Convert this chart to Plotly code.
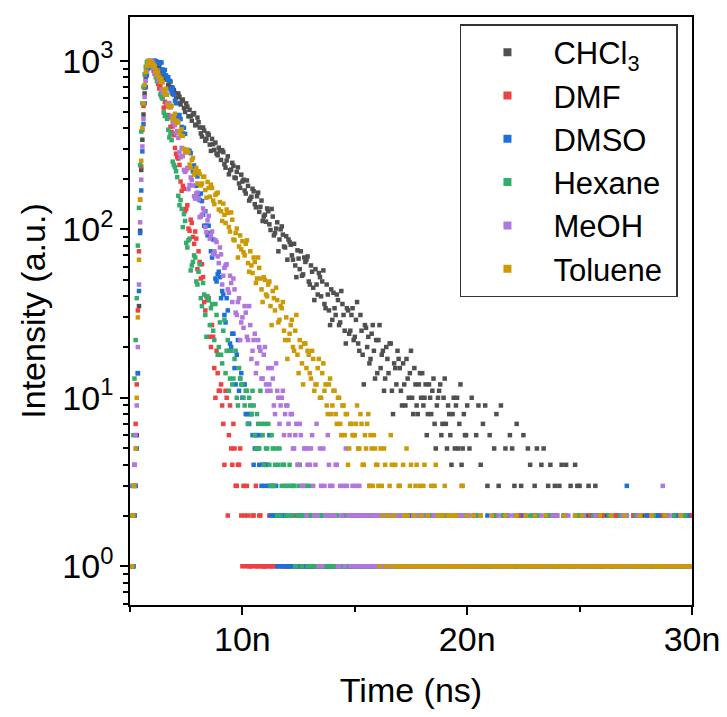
# Fluorescence decay of the dye in six solvents (TCSPC, log scale)

import numpy as np
import plotly.graph_objects as go

# Bins: 0.05 ns from 5.0 to 19.95 ns ("fine"), then 0.1 ns from 20.0 to 30.0 ns ("tail")
fine_start_ns, fine_step_ns = 5.0, 0.05
tail_start_ns, tail_step_ns = 20.0, 0.1

# ---- CHCl3 ----
chcl3_fine = [
    1, 1, 1, 1, 2, 3, 6, 14, 35, 98, 225, 340, 480, 640, 780, 860, 930, 960, 985, 992,
    985, 968, 1000, 958, 928, 951, 932, 872, 817, 878, 813, 781, 812, 791, 719, 702, 754, 698, 636, 671,
    643, 602, 561, 640, 612, 551, 577, 589, 525, 497, 559, 534, 468, 512, 470, 441, 480, 489, 414, 418,
    460, 432, 402, 371, 355, 402, 385, 335, 345, 371, 364, 318, 292, 344, 320, 296, 327, 281, 275, 305,
    291, 258, 295, 287, 243, 232, 256, 271, 212, 224, 226, 248, 238, 203, 201, 219, 233, 187, 176, 211,
    192, 197, 170, 163, 195, 181, 148, 152, 156, 174, 168, 141, 135, 157, 165, 127, 136, 148, 112, 119,
    122, 111, 133, 128, 107, 99, 132, 119, 92, 95, 101, 110, 74, 87, 100, 104, 93, 79, 78, 91,
    66, 87, 84, 81, 70, 66, 82, 61, 52, 75, 67, 58, 74, 53, 54, 68, 64, 66, 69, 49,
    47, 61, 56, 45, 38, 58, 47, 41, 55, 52, 40, 49, 57, 36, 34, 47, 41, 33, 27, 44,
    29, 42, 34, 31, 41, 38, 27, 28, 43, 36, 31, 25, 21, 34, 33, 24, 25, 31, 34, 22,
    23, 29, 37, 21, 19, 31, 25, 18, 12, 27, 26, 20, 23, 16, 17, 24, 27, 19, 13, 22,
    14, 22, 27, 15, 18, 19, 11, 13, 20, 17, 14, 21, 21, 11, 8, 16, 15, 12, 19, 17,
    15, 11, 9, 16, 12, 9, 17, 13, 10, 14, 19, 10, 8, 15, 12, 9, 8, 12, 14, 10,
    14, 9, 10, 12, 6, 8, 12, 10, 8, 11, 13, 7, 5, 9, 10, 11, 12, 6, 7, 10,
    13, 7, 5, 9, 8, 6, 4, 8, 10, 5, 9, 10, 5, 7, 12, 4, 5, 8, 6, 6,
]
chcl3_tail = [
    9, 5, 10, 2, 6, 9, 4, 7, 9, 3,
    6, 1, 5, 8, 3, 9, 2, 5, 0, 6,
    5, 3, 7, 2, 3, 6, 2, 5, 4, 2,
    3, 5, 1, 4, 5, 2, 3, 4, 2, 3,
    2, 3, 4, 2, 4, 1, 3, 1, 4, 3,
    3, 2, 1, 2, 3, 2, 1, 3, 2, 1,
    2, 1, 2, 2, 0, 1, 2, 1, 2, 1,
    1, 2, 0, 1, 2, 2, 1, 0, 2, 1,
    2, 1, 1, 0, 2, 1, 2, 1, 1, 2,
    1, 0, 2, 1, 1, 2, 1, 2, 0, 1,
    2,
]

# ---- DMF ----
dmf_fine = [
    1, 1, 2, 3, 4, 7, 12, 33, 74, 150, 236, 390, 540, 690, 820, 905, 970, 990, 1000, 975,
    955, 874, 837, 845, 849, 729, 685, 712, 653, 598, 527, 571, 541, 467, 476, 462, 406, 378, 408, 362,
    304, 281, 268, 263, 241, 192, 169, 181, 174, 128, 132, 139, 101, 98, 114, 109, 90, 82, 97, 88,
    58, 74, 64, 51, 62, 52, 37, 33, 40, 38, 39, 23, 20, 27, 23, 15, 10, 19, 14, 11,
    11, 12, 9, 7, 4, 11, 10, 2, 6, 9, 5, 4, 7, 5, 3, 3, 4, 4, 5, 2,
    1, 3, 2, 1, 3, 2, 1, 1, 1, 2, 2, 1, 3, 1, 1, 2, 2, 1, 1, 1,
    1, 1, 1, 0, 2, 1, 1, 1, 0, 2, 1, 1, 1, 0, 2, 1, 1, 1, 1, 1,
    1, 1, 0, 1, 1, 0, 2, 1, 1, 1, 1, 2, 0, 1, 1, 1, 1, 0, 2, 1,
    1, 0, 1, 1, 0, 2, 1, 1, 2, 1, 1, 0, 1, 1, 1, 1, 0, 1, 1, 2,
    2, 1, 1, 1, 1, 0, 0, 1, 1, 1, 1, 1, 2, 0, 1, 2, 1, 1, 0, 1,
    1, 0, 1, 1, 2, 1, 1, 1, 0, 1, 1, 2, 1, 1, 1, 0, 2, 1, 1, 1,
    0, 1, 1, 1, 1, 0, 1, 2, 2, 1, 1, 1, 0, 1, 1, 1, 1, 0, 1, 1,
    1, 1, 2, 0, 1, 1, 0, 1, 1, 2, 1, 1, 1, 0, 2, 1, 1, 1, 0, 1,
    1, 2, 1, 1, 0, 1, 1, 1, 1, 0, 2, 1, 1, 1, 1, 2, 0, 1, 1, 1,
    2, 1, 1, 1, 1, 0, 1, 1, 0, 1, 1, 1, 2, 1, 1, 0, 1, 2, 1, 1,
]
dmf_tail = [
    1, 0, 1, 2, 1, 1, 1, 0, 1, 1,
    1, 1, 2, 1, 1, 0, 1, 1, 2, 1,
    0, 1, 1, 1, 2, 1, 1, 0, 1, 1,
    1, 2, 1, 0, 1, 1, 1, 1, 2, 0,
    1, 1, 1, 2, 0, 1, 1, 1, 1, 2,
    1, 0, 1, 1, 1, 2, 1, 0, 1, 1,
    2, 1, 1, 0, 1, 1, 2, 1, 1, 0,
    1, 1, 0, 1, 2, 1, 1, 1, 0, 1,
    1, 2, 1, 1, 0, 1, 1, 2, 1, 1,
    0, 1, 1, 2, 1, 1, 0, 1, 1, 2,
    1,
]

# ---- DMSO ----
dmso_fine = [
    1, 1, 1, 1, 2, 3, 5, 14, 43, 95, 170, 290, 420, 560, 700, 820, 900, 940, 970, 955,
    910, 972, 1000, 993, 987, 962, 960, 981, 976, 889, 847, 881, 819, 771, 799, 762, 678, 651, 690, 629,
    580, 561, 475, 462, 477, 451, 405, 371, 400, 368, 294, 289, 294, 291, 283, 231, 221, 239, 220, 181,
    206, 161, 149, 163, 147, 122, 105, 128, 105, 92, 105, 95, 74, 68, 87, 72, 51, 49, 54, 56,
    52, 39, 43, 41, 31, 28, 39, 33, 19, 21, 20, 24, 24, 15, 12, 18, 22, 11, 13, 14,
    10, 12, 12, 8, 8, 7, 7, 8, 8, 6, 4, 5, 6, 6, 5, 4, 6, 3, 4, 4,
    3, 4, 4, 3, 6, 2, 3, 3, 2, 2, 3, 1, 2, 2, 2, 1, 1, 2, 2, 1,
    1, 1, 1, 0, 2, 1, 1, 1, 1, 2, 0, 1, 1, 1, 2, 0, 1, 1, 1, 1,
    2, 1, 1, 1, 0, 2, 1, 0, 1, 1, 2, 1, 1, 1, 1, 2, 1, 1, 0, 1,
    1, 0, 2, 1, 1, 1, 1, 1, 0, 2, 1, 1, 1, 1, 2, 0, 1, 1, 1, 2,
    0, 1, 1, 2, 1, 1, 1, 0, 2, 1, 1, 1, 0, 1, 1, 2, 1, 1, 2, 0,
    1, 1, 1, 0, 0, 1, 2, 1, 1, 1, 1, 2, 1, 0, 0, 1, 1, 1, 1, 1,
    2, 1, 0, 1, 1, 1, 1, 2, 1, 0, 2, 1, 1, 1, 1, 0, 0, 1, 1, 2,
    1, 0, 1, 1, 1, 2, 0, 1, 2, 1, 1, 0, 1, 1, 1, 1, 2, 1, 0, 1,
    1, 1, 2, 1, 0, 1, 1, 0, 1, 2, 1, 1, 0, 1, 2, 1, 1, 0, 1, 1,
]
dmso_tail = [
    0, 1, 1, 1, 2, 0, 1, 1, 1, 2,
    1, 1, 2, 0, 1, 1, 1, 0, 2, 1,
    1, 0, 1, 1, 1, 2, 0, 1, 1, 1,
    2, 1, 1, 0, 1, 1, 2, 1, 0, 1,
    1, 1, 0, 2, 1, 1, 1, 1, 2, 0,
    0, 2, 1, 1, 1, 0, 1, 2, 1, 1,
    1, 1, 1, 2, 0, 1, 1, 1, 0, 2,
    1, 3, 1, 0, 1, 1, 2, 1, 1, 0,
    2, 1, 0, 1, 1, 2, 1, 0, 1, 1,
    1, 0, 1, 2, 1, 1, 0, 1, 2, 1,
    1,
]

# ---- Hexane ----
hexane_fine = [
    2, 2, 3, 6, 13, 22, 39, 80, 134, 240, 380, 560, 700, 830, 920, 980, 1000, 985, 960, 930,
    908, 913, 890, 798, 757, 781, 751, 632, 610, 598, 494, 471, 477, 452, 390, 351, 369, 338, 252, 241,
    234, 221, 204, 158, 139, 149, 132, 103, 123, 112, 83, 78, 86, 88, 57, 61, 64, 70, 68, 49,
    47, 56, 62, 39, 35, 48, 41, 31, 23, 40, 38, 27, 34, 36, 25, 22, 36, 31, 18, 20,
    28, 18, 16, 25, 29, 14, 19, 22, 11, 13, 19, 12, 13, 17, 19, 10, 9, 15, 13, 12,
    12, 10, 9, 11, 11, 7, 10, 9, 8, 11, 9, 6, 5, 8, 7, 5, 11, 7, 6, 4,
    7, 5, 5, 7, 4, 3, 6, 5, 3, 4, 5, 2, 4, 5, 2, 3, 4, 4, 3, 2,
    3, 2, 4, 3, 2, 3, 3, 1, 1, 2, 3, 4, 2, 1, 2, 2, 3, 2, 1, 3,
    2, 1, 2, 2, 1, 1, 2, 1, 0, 2, 1, 1, 2, 0, 1, 2, 1, 1, 2, 1,
    1, 1, 1, 2, 2, 0, 1, 1, 1, 1, 0, 1, 1, 2, 1, 1, 2, 0, 1, 1,
    1, 1, 2, 1, 1, 0, 0, 1, 1, 2, 1, 1, 2, 1, 1, 0, 1, 1, 0, 1,
    1, 0, 1, 1, 2, 1, 1, 1, 0, 1, 1, 2, 1, 1, 1, 0, 2, 1, 1, 1,
    0, 1, 1, 1, 1, 2, 2, 1, 1, 0, 1, 1, 0, 1, 1, 1, 1, 2, 2, 1,
    1, 1, 2, 0, 1, 1, 1, 1, 0, 2, 1, 1, 1, 0, 2, 1, 1, 1, 1, 1,
    1, 2, 0, 1, 1, 1, 1, 0, 2, 1, 1, 1, 1, 2, 0, 1, 1, 1, 2, 0,
]
hexane_tail = [
    2, 1, 1, 0, 1, 2, 1, 1, 1, 0,
    1, 1, 0, 2, 1, 1, 2, 1, 0, 1,
    1, 2, 1, 1, 1, 0, 1, 1, 2, 1,
    0, 1, 2, 1, 1, 1, 0, 2, 1, 1,
    1, 1, 1, 0, 2, 1, 1, 1, 0, 2,
    2, 1, 0, 1, 1, 1, 2, 0, 1, 1,
    1, 0, 1, 2, 1, 1, 1, 1, 2, 0,
    1, 2, 1, 1, 0, 2, 1, 1, 1, 1,
    0, 1, 1, 2, 1, 1, 0, 1, 2, 1,
    1, 1, 2, 0, 1, 1, 1, 2, 1, 0,
    1,
]

# ---- MeOH ----
meoh_fine = [
    1, 1, 2, 3, 4, 6, 9, 20, 47, 110, 197, 310, 450, 610, 760, 860, 940, 975, 990, 996,
    985, 911, 842, 881, 827, 768, 800, 752, 676, 651, 656, 641, 638, 556, 535, 561, 529, 471, 431, 462,
    415, 372, 383, 349, 286, 268, 304, 272, 225, 219, 224, 231, 173, 183, 203, 196, 182, 157, 152, 163,
    165, 151, 118, 119, 122, 133, 128, 103, 96, 113, 120, 88, 92, 97, 71, 74, 86, 84, 69, 63,
    78, 71, 47, 53, 59, 61, 62, 44, 42, 53, 48, 37, 51, 44, 32, 31, 37, 39, 22, 28,
    30, 26, 35, 32, 23, 22, 35, 27, 17, 19, 22, 24, 14, 16, 22, 20, 19, 13, 13, 18,
    20, 12, 11, 15, 12, 11, 15, 13, 9, 8, 16, 11, 10, 7, 9, 10, 11, 6, 8, 9,
    9, 7, 6, 8, 8, 5, 5, 6, 7, 4, 4, 7, 6, 3, 3, 5, 5, 2, 4, 5,
    4, 5, 6, 3, 2, 4, 7, 2, 1, 5, 3, 1, 5, 3, 2, 2, 6, 4, 3, 2,
    3, 2, 2, 4, 4, 1, 1, 3, 2, 2, 3, 1, 5, 3, 2, 2, 1, 2, 3, 1,
    2, 3, 1, 2, 3, 1, 2, 2, 1, 2, 2, 1, 1, 3, 2, 1, 0, 2, 2, 1,
    1, 2, 2, 1, 1, 1, 1, 2, 2, 1, 0, 1, 1, 2, 2, 1, 1, 0, 1, 2,
    1, 1, 1, 2, 2, 1, 1, 0, 1, 1, 0, 1, 2, 1, 1, 2, 1, 1, 1, 1,
    2, 1, 1, 1, 0, 2, 1, 1, 1, 0, 2, 1, 1, 1, 1, 2, 0, 1, 1, 1,
    1, 1, 0, 2, 1, 1, 2, 1, 1, 1, 1, 0, 1, 2, 0, 1, 2, 1, 1, 1,
]
meoh_tail = [
    1, 2, 1, 1, 0, 1, 2, 1, 1, 0,
    0, 1, 1, 1, 2, 1, 0, 1, 1, 2,
    1, 2, 0, 1, 1, 1, 2, 1, 0, 1,
    1, 1, 1, 2, 0, 1, 1, 1, 2, 1,
    2, 0, 1, 1, 1, 2, 1, 0, 1, 1,
    1, 1, 2, 0, 1, 1, 1, 2, 1, 0,
    0, 1, 1, 1, 2, 0, 1, 1, 1, 2,
    1, 2, 1, 1, 0, 1, 2, 1, 0, 1,
    1, 0, 2, 1, 1, 1, 0, 3, 1, 1,
    2, 1, 1, 0, 1, 2, 1, 1, 1, 0,
    1,
]

# ---- Toluene ----
toluene_fine = [
    2, 1, 1, 2, 3, 5, 10, 30, 66, 150, 255, 400, 560, 720, 860, 930, 990, 995, 1000, 962,
    928, 958, 932, 872, 817, 861, 803, 752, 782, 744, 670, 631, 683, 629, 549, 531, 538, 541, 451, 461,
    485, 429, 441, 431, 382, 361, 392, 358, 300, 286, 288, 297, 287, 242, 231, 258, 265, 211, 222, 231,
    187, 221, 213, 182, 187, 205, 205, 171, 154, 191, 176, 156, 184, 176, 148, 141, 160, 163, 165, 131,
    145, 128, 112, 142, 122, 109, 131, 125, 103, 97, 126, 114, 87, 86, 95, 101, 68, 79, 92, 76,
    85, 73, 70, 82, 86, 63, 56, 74, 61, 55, 68, 64, 48, 51, 68, 59, 51, 44, 37, 52,
    50, 41, 40, 47, 49, 35, 27, 43, 39, 33, 45, 38, 28, 29, 35, 34, 37, 25, 22, 30,
    17, 22, 24, 27, 29, 20, 19, 25, 31, 18, 14, 22, 20, 16, 12, 21, 21, 15, 19, 18,
    14, 13, 19, 17, 11, 12, 12, 15, 17, 10, 10, 14, 16, 11, 12, 9, 8, 12, 13, 8,
    9, 11, 11, 8, 7, 10, 10, 7, 6, 9, 9, 6, 8, 8, 4, 5, 7, 7, 6, 6,
    6, 7, 9, 5, 5, 8, 7, 4, 4, 6, 5, 7, 8, 3, 6, 5, 3, 6, 5, 4,
    4, 3, 1, 5, 3, 2, 5, 4, 1, 1, 2, 3, 6, 4, 1, 2, 4, 1, 1, 3,
    3, 1, 1, 4, 2, 1, 5, 2, 1, 3, 4, 1, 1, 2, 3, 4, 1, 1, 3, 2,
    1, 3, 4, 1, 1, 2, 1, 1, 3, 1, 1, 3, 4, 1, 2, 1, 1, 2, 2, 1,
    3, 1, 1, 2, 1, 1, 2, 1, 1, 2, 2, 1, 1, 1, 1, 3, 3, 1, 1, 1,
]
toluene_tail = [
    2, 1, 1, 2, 1, 1, 2, 1, 1, 1,
    1, 2, 1, 1, 1, 1, 1, 2, 1, 1,
    1, 1, 2, 1, 1, 1, 2, 1, 1, 1,
    2, 1, 1, 1, 1, 2, 1, 1, 0, 1,
    1, 1, 1, 2, 1, 1, 1, 1, 2, 1,
    1, 2, 1, 1, 1, 0, 1, 1, 1, 2,
    1, 1, 1, 1, 2, 1, 1, 1, 1, 1,
    2, 1, 1, 0, 1, 1, 1, 2, 1, 1,
    1, 1, 2, 1, 1, 1, 1, 1, 2, 1,
    1, 0, 1, 1, 1, 2, 1, 1, 1, 1,
    1,
]

solvents = ["CHCl<sub>3</sub>", "DMF", "DMSO", "Hexane", "MeOH", "Toluene"]
fine_counts = [chcl3_fine, dmf_fine, dmso_fine, hexane_fine, meoh_fine, toluene_fine]
tail_counts = [chcl3_tail, dmf_tail, dmso_tail, hexane_tail, meoh_tail, toluene_tail]
colors = ["#505050", "#ef4141", "#1d6fdc", "#33ac6c", "#b276df", "#cc9a05"]

fig = go.Figure()

for name, fine, tail, color in zip(solvents, fine_counts, tail_counts, colors):
    t_fine = fine_start_ns + fine_step_ns * np.arange(len(fine))
    t_tail = tail_start_ns + tail_step_ns * np.arange(len(tail))
    # time in seconds so the ticks read 10n, 20n, ...
    t = np.concatenate([t_fine, t_tail]) * 1e-9
    y = [c if c > 0 else None for c in fine + tail]
    fig.add_trace(go.Scatter(
        x=t, y=y, mode="markers", name=name, showlegend=False,
        marker=dict(symbol="square", size=4.5, color=color, line=dict(width=0)),
    ))

# legend entries with bigger symbols (trailing nbsp gives the right padding of the box)
for name, color in zip(solvents, colors):
    fig.add_trace(go.Scatter(
        x=[None], y=[None], mode="markers", name=name + "\u00a0",
        marker=dict(symbol="square", size=8, color=color, line=dict(width=0)),
    ))

minor_y = [0.6, 0.7, 0.8, 0.9] + [m * d for d in (1, 10, 100) for m in range(2, 10)]

fig.update_xaxes(
    type="linear", range=[5e-9, 30e-9],
    tickmode="array", tickvals=[10e-9, 20e-9, 30e-9], ticktext=["10n", "20n", "30n"],
    ticks="outside", ticklen=8, tickwidth=1.5, tickcolor="black", ticklabelstandoff=-5,
    minor=dict(tickmode="array", tickvals=[5e-9, 15e-9, 25e-9], ticks="outside",
               ticklen=5, tickwidth=1.5, tickcolor="black", showgrid=False),
    showline=True, linecolor="black", linewidth=1.5, mirror=True,
    showgrid=False, zeroline=False,
    title=dict(text="Time (ns)", font=dict(size=34), standoff=22),
    tickfont=dict(size=34),
)
fig.update_yaxes(
    type="log", range=[-0.23, 3.26],
    tickmode="array", tickvals=[1, 10, 100, 1000],
    ticktext=["10<sup>0</sup>", "10<sup>1</sup>", "10<sup>2</sup>", "10<sup>3</sup>"],
    ticks="outside", ticklen=8, tickwidth=1.5, tickcolor="black",
    minor=dict(tickmode="array", tickvals=minor_y, ticks="outside",
               ticklen=5, tickwidth=1.5, tickcolor="black", showgrid=False),
    showline=True, linecolor="black", linewidth=1.5, mirror=True,
    showgrid=False, zeroline=False,
    title=dict(text="Intensity (a.u.)", font=dict(size=34), standoff=6),
    tickfont=dict(size=34),
)

# the page body adds an 8 px offset, so the figure is 8 px smaller on each side
fig.update_layout(
    width=719, height=709,
    margin=dict(l=122, r=32, t=7, b=112),
    plot_bgcolor="white", paper_bgcolor="white",
    font=dict(family="Liberation Sans, Arial, sans-serif", size=34, color="black"),
    legend=dict(x=0.975, xanchor="right", y=0.988, yanchor="top",
                bgcolor="white", bordercolor="#333333", borderwidth=1.5,
                font=dict(size=31), itemwidth=82, tracegroupgap=0),
)

fig.write_html("out.html")
